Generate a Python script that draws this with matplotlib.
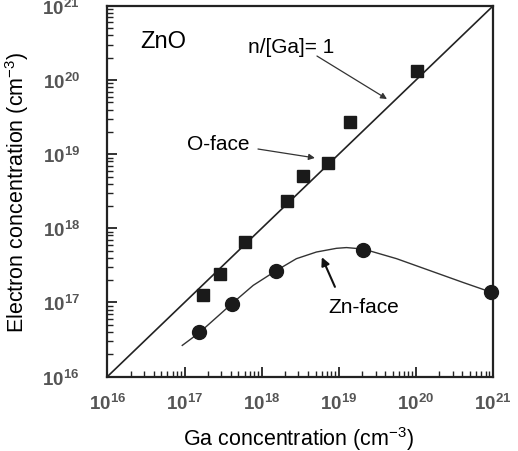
import numpy as np
import matplotlib
matplotlib.use("Agg")
import matplotlib.pyplot as plt

plt.rcParams["font.family"] = ["Liberation Sans", "DejaVu Sans"]
plt.rcParams["mathtext.fontset"] = "custom"
plt.rcParams["mathtext.rm"] = "Liberation Sans"
plt.rcParams["mathtext.bf"] = "Liberation Sans:bold"

# O-face samples (log10 of concentrations in cm^-3)
oface_ga = [17.24, 17.46, 17.78, 18.33, 18.54, 18.86, 19.15, 20.01]
oface_n = [17.10, 17.38, 17.81, 18.37, 18.71, 18.88, 19.43, 20.12]

# Zn-face samples
znface_ga = [17.19, 17.61, 18.19, 19.32, 20.97]
znface_n = [16.60, 16.98, 17.43, 17.71, 17.14]

# guide curve through the Zn-face data
zn_curve_ga = [16.97, 17.19, 17.46, 17.61, 17.89, 18.19, 18.45, 18.71, 18.97,
               19.10, 19.32, 19.75, 20.18, 20.61, 20.97]
zn_curve_n = [16.42, 16.59, 16.84, 16.98, 17.23, 17.43, 17.59, 17.68, 17.73,
              17.74, 17.72, 17.59, 17.43, 17.27, 17.14]

decades = [16, 17, 18, 19, 20, 21]
tick_labels = [r"$\mathbf{10^{%d}}$" % d for d in decades]


def lg(x, y):
    return 10.0 ** x, 10.0 ** y


fig = plt.figure(figsize=(5.18, 4.52), dpi=100)
ax = fig.add_axes([0.2075, 0.1648, 0.7442, 0.8197])

ax.plot([1e16, 1e21], [1e16, 1e21], color="#222222", lw=1.2)
ax.plot(10 ** np.array(zn_curve_ga), 10 ** np.array(zn_curve_n), color="#333333", lw=1.0)
ax.plot(10 ** np.array(oface_ga), 10 ** np.array(oface_n), "s", color="#1a1a1a",
        ms=8.5, ls="none")
ax.plot(10 ** np.array(znface_ga), 10 ** np.array(znface_n), "o", color="#1a1a1a",
        ms=10, ls="none", clip_on=False, zorder=5)

ax.set_xscale("log")
ax.set_yscale("log")
ax.set_xlim(1e16, 1e21)
ax.set_ylim(1e16, 1e21)

ticks = [10.0 ** d for d in decades]
ax.set_xticks(ticks)
ax.set_yticks(ticks)
ax.set_xticklabels(tick_labels)
ax.set_yticklabels(tick_labels)
ax.xaxis.set_minor_locator(matplotlib.ticker.LogLocator(base=10, subs=np.arange(2, 10), numticks=20))
ax.yaxis.set_minor_locator(matplotlib.ticker.LogLocator(base=10, subs=np.arange(2, 10), numticks=20))
ax.xaxis.set_minor_formatter(matplotlib.ticker.NullFormatter())
ax.yaxis.set_minor_formatter(matplotlib.ticker.NullFormatter())

ax.tick_params(which="both", direction="in", top=False, right=False, colors="#222222")
ax.tick_params(which="major", length=7, width=1.3)
ax.tick_params(which="minor", length=4, width=1.0)
ax.tick_params(axis="x", which="major", pad=12, labelsize=13.5, labelcolor="#555555")
ax.tick_params(axis="y", which="major", pad=20, labelsize=13.5, labelcolor="#555555")

for s in ax.spines.values():
    s.set_linewidth(1.6)
    s.set_color("#222222")

ax.set_xlabel(r"Ga concentration (cm$^{-3}$)", fontsize=15.5)
ax.set_ylabel(r"Electron concentration (cm$^{-3}$)", fontsize=15.5)
ax.xaxis.set_label_coords(0.495, -0.128)
ax.yaxis.set_label_coords(-0.198, 0.50)

# labels and pointers
ax.text(*lg(16.42, 20.53), "ZnO", fontsize=17, va="center", ha="left")
ax.text(*lg(17.82, 20.46), "n/[Ga]= 1", fontsize=15, va="center", ha="left")
ax.text(*lg(17.03, 19.15), "O-face", fontsize=15, va="center", ha="left")
ax.text(*lg(18.86, 16.95), "Zn-face", fontsize=15, va="center", ha="left")

thin = dict(arrowstyle="-|>", color="#333333", lw=0.9, mutation_scale=9,
            shrinkA=0, shrinkB=0)
bold = dict(arrowstyle="-|>", color="#111111", lw=1.5, mutation_scale=12,
            shrinkA=0, shrinkB=0)
ax.annotate("", xy=lg(19.625, 19.745), xytext=lg(18.717, 20.325), arrowprops=thin)
ax.annotate("", xy=lg(18.69, 18.95), xytext=lg(17.952, 19.07), arrowprops=thin)
ax.annotate("", xy=lg(18.78, 17.61), xytext=lg(18.95, 17.21), arrowprops=bold)

fig.savefig("out.png", dpi=100)
